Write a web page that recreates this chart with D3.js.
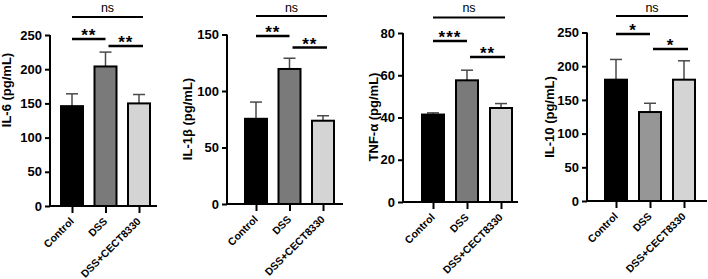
<!DOCTYPE html>
<html><head><meta charset="utf-8">
<script src="https://cdn.jsdelivr.net/npm/d3@7"></script>
<style>body{margin:0;background:#fff}svg{display:block;font-family:"Liberation Sans",Arial,sans-serif}</style>
</head><body>
<svg id="c" width="708" height="279"></svg>
<script>
const categories = ["Control", "DSS", "DSS+CECT8330"];
const titles = ["IL-6 (pg/mL)", "IL-1β (pg/mL)", "TNF-α (pg/mL)", "IL-10 (pg/mL)"];
const il6Mean = [146, 204, 150];
const il6Upper = [164, 225, 163];
const il1bMean = [75.4, 119.5, 73.7];
const il1bUpper = [90.2, 129, 78.1];
const tnfMean = [41.4, 57.6, 44.5];
const tnfUpper = [42.2, 62.4, 46.6];
const il10Mean = [180, 132, 180];
const il10Upper = [210, 145, 208];
const yMaxes = [250, 150, 80, 250];
const yTickValues = [[0,50,100,150,200,250],[0,50,100,150],[0,20,40,60,80],[0,50,100,150,200,250]];
const sigNs = ["ns", "ns", "ns", "ns"];
const sig12 = ["**", "**", "***", "*"];
const sig23 = ["**", "**", "**", "*"];

const means = [il6Mean, il1bMean, tnfMean, il10Mean];
const uppers = [il6Upper, il1bUpper, tnfUpper, il10Upper];

// layout (pixels)
const layout = [
  {ax:50,  yb:206, yt:35, c0:72,  c2:139, bw:22, end:157, tx:11,  ty:90,  l1:17, l2:39, l3:46, dss:"#7a7a7a"},
  {ax:227, yb:204, yt:34.5, c0:256, c2:323, bw:22, end:343, tx:192, ty:119, l1:16, l2:36, l3:47.5, dss:"#7a7a7a"},
  {ax:403, yb:202, yt:33, c0:433, c2:501, bw:22, end:518, tx:378, ty:117, l1:17.5, l2:41, l3:57, dss:"#7a7a7a"},
  {ax:587, yb:201, yt:32.5, c0:616, c2:684, bw:22, end:707, tx:554, ty:117, l1:16, l2:34, l3:49, dss:"#969696"}
];

const svg = d3.select("#c");

layout.forEach((L, p) => {
  const g = svg.append("g");
  const y = d3.scaleLinear().domain([0, yMaxes[p]]).range([L.yb, L.yt]);
  const x = d3.scalePoint().domain(categories).range([L.c0, L.c2]);
  const fills = ["#000000", L.dss, "#d4d4d4"];

  // error bars (upper only)
  categories.forEach((c, i) => {
    const cx = x(c);
    g.append("line").attr("x1", cx).attr("x2", cx)
      .attr("y1", y(means[p][i])).attr("y2", y(uppers[p][i]))
      .attr("stroke", "#4a4a4a").attr("stroke-width", 1.5);
    g.append("line").attr("x1", cx - 6).attr("x2", cx + 6)
      .attr("y1", y(uppers[p][i])).attr("y2", y(uppers[p][i]))
      .attr("stroke", "#4a4a4a").attr("stroke-width", 1.5);
  });

  // bars
  g.selectAll("rect.bar").data(categories).join("rect")
    .attr("x", c => x(c) - L.bw / 2)
    .attr("width", L.bw)
    .attr("y", (c, i) => y(means[p][i]))
    .attr("height", (c, i) => y(0) - y(means[p][i]))
    .attr("fill", (c, i) => fills[i])
    .attr("stroke", "#000").attr("stroke-width", 2);

  // y axis
  const ya = g.append("g").attr("transform", `translate(${L.ax},0)`)
    .call(d3.axisLeft(y).tickValues(yTickValues[p]).tickSize(5).tickPadding(3).tickSizeOuter(0));
  ya.select(".domain").attr("stroke-width", 2).attr("d", `M0,${L.yb}V${L.yt}`);
  ya.selectAll(".tick line").attr("stroke-width", 2);
  ya.selectAll(".tick text").attr("font-size", 13).attr("font-weight", "bold")
    .attr("font-family", "Liberation Sans, Arial, sans-serif").attr("fill", "#000");

  // x axis
  const xa = g.append("g").attr("transform", `translate(0,${L.yb})`)
    .call(d3.axisBottom(x).tickSize(7).tickSizeOuter(0));
  xa.select(".domain").attr("stroke-width", 2).attr("d", `M${L.ax},0H${L.end}`);
  xa.selectAll(".tick line").attr("stroke-width", 2);
  xa.selectAll(".tick text")
    .attr("font-size", 10.5).attr("font-weight", "bold")
    .attr("font-family", "Liberation Sans, Arial, sans-serif").attr("fill", "#000")
    .attr("text-anchor", "end").attr("dy", null).attr("y", 0)
    .attr("transform", "translate(2,16) rotate(-45)");

  // y title
  g.append("text").attr("transform", `translate(${L.tx},${L.ty}) rotate(-90)`)
    .attr("text-anchor", "middle").attr("font-size", 13).attr("font-weight", "bold")
    .text(titles[p]);

  // significance
  const c0 = x(categories[0]), c1 = x(categories[1]), c2 = x(categories[2]);
  const brackets = [
    {x1: c0, x2: c2 + 4, yy: L.l1, t: sigNs[p], w: 2},
    {x1: c0, x2: c1, yy: L.l2, t: sig12[p], w: 2.5},
    {x1: c1 + 3, x2: c2 + 4, yy: L.l3, t: sig23[p], w: 2.5}
  ];
  brackets.forEach(b => {
    g.append("line").attr("x1", b.x1).attr("x2", b.x2).attr("y1", b.yy).attr("y2", b.yy)
      .attr("stroke", "#000").attr("stroke-width", b.w);
    if (b.t === "ns") {
      g.append("text").attr("x", (b.x1 + b.x2) / 2).attr("y", 11.5)
        .attr("text-anchor", "middle").attr("font-size", 12.5).text(b.t);
    } else {
      g.append("text").attr("x", (b.x1 + b.x2) / 2).attr("y", b.yy + 2)
        .attr("text-anchor", "middle").attr("font-size", 17).attr("letter-spacing", 1)
        .attr("font-weight", "bold").text(b.t);
    }
  });
});
</script>
</body></html>
